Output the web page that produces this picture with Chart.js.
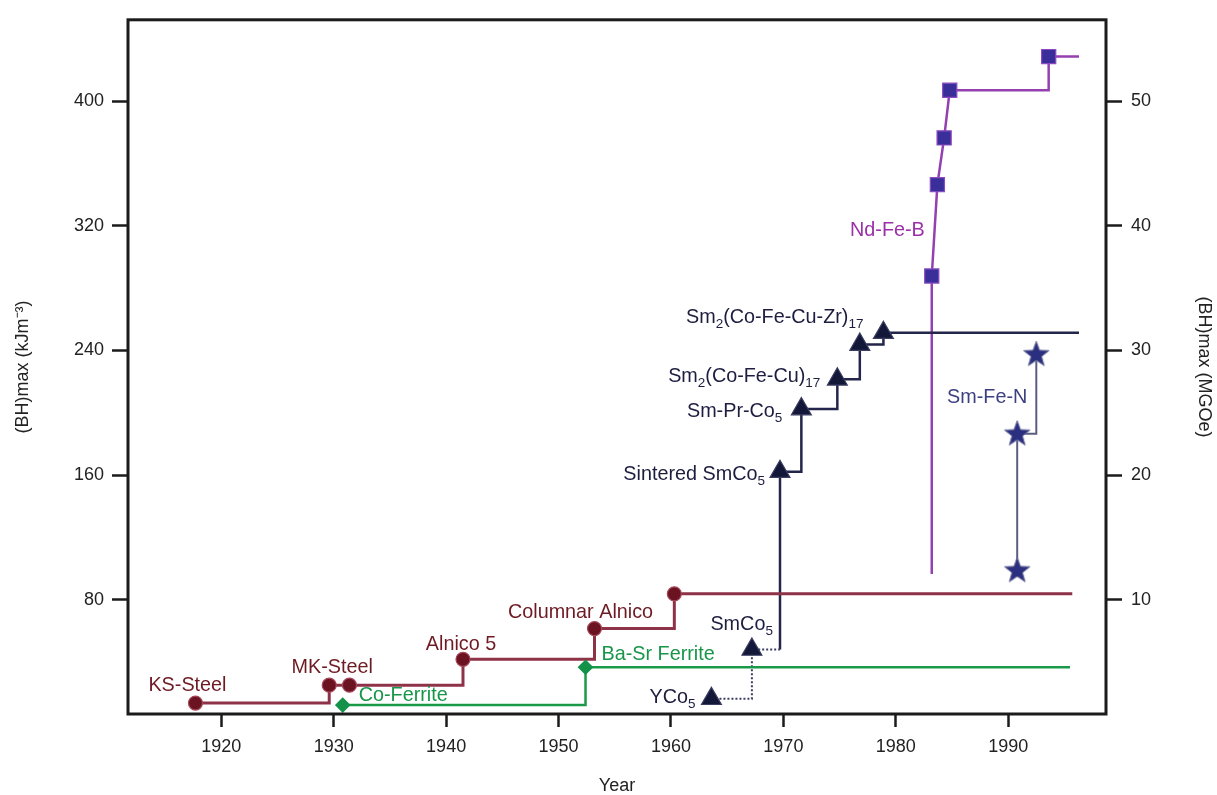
<!DOCTYPE html>
<html>
<head>
<meta charset="utf-8">
<script src="https://cdn.jsdelivr.net/npm/chart.js@4.4.1/dist/chart.umd.min.js"></script>
<style>
  html, body { margin: 0; padding: 0; background: #fff; }
  #wrap { width: 1217px; height: 795px; position: relative; }
</style>
</head>
<body>
<div id="wrap"><canvas id="chart"></canvas></div>
<script>
// Valores: año y (BH)max en kJ/m3
const alnicoYears = [1917.7, 1929.6, 1931.4, 1941.5, 1953.2, 1960.3];
const alnicoValues = [13.7, 25.2, 25.2, 41.8, 61.5, 83.8];
const alnicoEndYear = 1995.7;

const ferriteYears = [1930.8, 1952.4];
const ferriteValues = [12.4, 36.7];
const ferriteEndYear = 1995.5;

const yco5Years = [1963.6, 1967.2];
const yco5Values = [16.5, 48.1];

const smcoYears = [1969.7, 1971.6, 1974.8, 1976.8, 1978.9];
const smcoValues = [162.2, 202.4, 221.5, 243.8, 251.4];
const smcoEndYear = 1996.3;

const ndfebStartValue = 96.6;
const ndfebYears = [1983.2, 1983.7, 1984.3, 1984.8, 1993.6];
const ndfebValues = [287.8, 346.4, 376.4, 407.0, 428.6];
const ndfebEndYear = 1996.3;

const smfenYears = [1990.8, 1990.8, 1992.5];
const smfenValues = [98.9, 186.6, 237.6];

const yearTicks = [1920, 1930, 1940, 1950, 1960, 1970, 1980, 1990];
const kjTicks = [80, 160, 240, 320, 400];
const mgoeTicks = [10, 20, 30, 40, 50];

const KJ_PER_MGOE = 8;
const X_MIN = 1911.7, X_MAX = 1998.7;
const Y_MIN = 6.7, Y_MAX = 452.2;

const FONT = "'Liberation Sans', Arial, Helvetica, sans-serif";

function pts(xs, ys) {
  return xs.map((x, i) => ({ x: x, y: ys[i] }));
}

function estrella() {
  const c = document.createElement('canvas');
  c.width = 30; c.height = 30;
  const g = c.getContext('2d');
  g.beginPath();
  for (let i = 0; i < 10; i++) {
    const r = i % 2 === 0 ? 13.5 : 5.6;
    const a = -Math.PI / 2 + i * Math.PI / 5;
    g.lineTo(15 + r * Math.cos(a), 15.5 + r * Math.sin(a));
  }
  g.closePath();
  g.fillStyle = '#2b2f80';
  g.fill();
  g.lineWidth = 1;
  g.strokeStyle = '#6d7199';
  g.stroke();
  return c;
}

// lineas escalonadas
const alnicoLine = pts(alnicoYears, alnicoValues).concat([{ x: alnicoEndYear, y: alnicoValues[alnicoValues.length - 1] }]);
const ferriteLine = pts(ferriteYears, ferriteValues).concat([{ x: ferriteEndYear, y: ferriteValues[ferriteValues.length - 1] }]);
const yco5Line = pts(yco5Years, yco5Values).concat([{ x: smcoYears[0], y: yco5Values[1] }]);
const smcoLine = [{ x: smcoYears[0], y: yco5Values[1] }].concat(pts(smcoYears, smcoValues), [{ x: smcoEndYear, y: smcoValues[smcoValues.length - 1] }]);
const ndfebLow = [{ x: ndfebYears[0], y: ndfebStartValue }].concat(pts(ndfebYears.slice(0, 4), ndfebValues.slice(0, 4)));
const ndfebHigh = pts(ndfebYears.slice(3), ndfebValues.slice(3)).concat([{ x: ndfebEndYear, y: ndfebValues[4] }]);
const smfenLine = pts(smfenYears, smfenValues);

const RED = '#6e1a22', NAVY = '#1c1d3f', GREEN = '#17964a', PURPLE = '#9a2fa8', SMFEN = '#3c3f80';

const etiquetas = [
  { parts: [['KS-Steel']], at: [alnicoYears[0], alnicoValues[0]], dx: -8, dy: -12, align: 'center', color: RED },
  { parts: [['MK-Steel']], at: [alnicoYears[1], alnicoValues[1]], dx: 3, dy: -12, align: 'center', color: RED },
  { parts: [['Alnico 5']], at: [alnicoYears[3], alnicoValues[3]], dx: -2, dy: -9, align: 'center', color: RED },
  { parts: [['Columnar Alnico']], at: [alnicoYears[4], alnicoValues[4]], dx: -14, dy: -11, align: 'center', color: RED },
  { parts: [['Co-Ferrite']], at: [ferriteYears[0], ferriteValues[0]], dx: 16, dy: -4, align: 'left', color: GREEN },
  { parts: [['Ba-Sr Ferrite']], at: [ferriteYears[1], ferriteValues[1]], dx: 16, dy: -7, align: 'left', color: GREEN },
  { parts: [['YCo'], ['5', 1]], at: [yco5Years[0], yco5Values[0]], dx: -16, dy: 4, align: 'right', color: NAVY },
  { parts: [['SmCo'], ['5', 1]], at: [yco5Years[1], yco5Values[1]], dx: 21, dy: -19, align: 'right', color: NAVY },
  { parts: [['Sintered SmCo'], ['5', 1]], at: [smcoYears[0], smcoValues[0]], dx: -15, dy: 8, align: 'right', color: NAVY },
  { parts: [['Sm-Pr-Co'], ['5', 1]], at: [smcoYears[1], smcoValues[1]], dx: -19, dy: 8, align: 'right', color: NAVY },
  { parts: [['Sm'], ['2', 1], ['(Co-Fe-Cu)'], ['17', 1]], at: [smcoYears[2], smcoValues[2]], dx: -17, dy: 3, align: 'right', color: NAVY },
  { parts: [['Sm'], ['2', 1], ['(Co-Fe-Cu-Zr)'], ['17', 1]], at: [smcoYears[4], smcoValues[4]], dx: -20, dy: -10, align: 'right', color: NAVY },
  { parts: [['Nd-Fe-B']], at: [ndfebYears[0], ndfebValues[0]], dx: -7, dy: -40, align: 'right', color: PURPLE },
  { parts: [['Sm-Fe-N']], at: [smfenYears[2], smfenValues[2]], dx: -9, dy: 49, align: 'right', color: SMFEN }
];

const etiquetasPlugin = {
  id: 'etiquetas',
  afterDatasetsDraw(chart) {
    const ctx = chart.ctx;
    const xs = chart.scales.x, ys = chart.scales.y;
    const main = '19.8px ' + FONT, sub = '13.5px ' + FONT;
    etiquetas.forEach(e => {
      const px = xs.getPixelForValue(e.at[0]) + e.dx;
      const py = ys.getPixelForValue(e.at[1]) + e.dy;
      ctx.save();
      let w = 0;
      e.parts.forEach(p => { ctx.font = p[1] ? sub : main; w += ctx.measureText(p[0]).width; });
      let x = e.align === 'right' ? px - w : (e.align === 'center' ? px - w / 2 : px);
      ctx.fillStyle = e.color;
      ctx.textBaseline = 'alphabetic';
      e.parts.forEach(p => {
        ctx.font = p[1] ? sub : main;
        ctx.fillText(p[0], x, py + (p[1] ? 5 : 0));
        x += ctx.measureText(p[0]).width;
      });
      ctx.restore();
    });
  },
  afterDraw(chart) {
    const a = chart.chartArea, ctx = chart.ctx;
    ctx.save();
    ctx.strokeStyle = '#1b1b1b';
    ctx.lineWidth = 3;
    ctx.strokeRect(a.left, a.top, a.right - a.left, a.bottom - a.top);
    ctx.restore();
  }
};

function linea(data, color, extra) {
  return Object.assign({
    data: data, showLine: true, stepped: 'before', borderColor: color, borderWidth: 2.5,
    pointRadius: 0, fill: false, order: 2
  }, extra || {});
}

function marcas(data, style, radius, fill, border) {
  return {
    data: data, showLine: false, pointStyle: style, pointRadius: radius,
    backgroundColor: fill, borderColor: border, borderWidth: 1.2, order: 1
  };
}

const ticksFont = { family: FONT, size: 18 };

document.addEventListener('DOMContentLoaded', () => {
  const ctx = document.getElementById('chart').getContext('2d');
  new Chart(ctx, {
    type: 'scatter',
    data: {
      datasets: [
        marcas(pts(alnicoYears, alnicoValues), 'circle', 7, '#6b1321', '#a5485a'),
        marcas(pts(ferriteYears, ferriteValues), 'rectRot', 7, '#15924a', '#15924a'),
        marcas(pts(yco5Years, yco5Values).concat(pts(smcoYears, smcoValues)), 'triangle', 11.5, '#141838', '#3a3d60'),
        marcas(pts(ndfebYears, ndfebValues), 'rect', 10, '#3a2e9a', '#8a4cc0'),
        marcas(pts(smfenYears, smfenValues), estrella(), 14, '#2b2f80', '#2b2f80'),
        linea(alnicoLine, '#8e3248', { borderWidth: 3 }),
        linea(ferriteLine, '#1a9a48'),
        linea(yco5Line, '#3a3d62', { borderDash: [2, 2], borderWidth: 2 }),
        linea(smcoLine, '#23264a'),
        linea(ndfebLow, '#9440b0', { stepped: false }),
        linea(ndfebHigh, '#9440b0'),
        linea(smfenLine, '#5a5e80', { borderWidth: 2 })
      ]
    },
    options: {
      responsive: true,
      maintainAspectRatio: false,
      animation: false,
      events: [],
      layout: { padding: { top: 15, left: 0, right: 0, bottom: 0 } },
      plugins: { legend: { display: false }, tooltip: { enabled: false } },
      scales: {
        x: {
          type: 'linear', min: X_MIN, max: X_MAX,
          afterBuildTicks: axis => { axis.ticks = yearTicks.map(v => ({ value: v })); },
          afterFit: axis => { axis.height = 81; },
          ticks: { font: ticksFont, color: '#222', padding: 9, callback: v => String(v) },
          grid: { drawOnChartArea: false, drawTicks: true, tickLength: 13, tickColor: '#1b1b1b', tickWidth: 2.5 },
          border: { display: false },
          title: { display: true, text: 'Year', font: { family: FONT, size: 18, lineHeight: 1 }, color: '#222', padding: { top: 0, bottom: 0 } }
        },
        y: {
          type: 'linear', position: 'left', min: Y_MIN, max: Y_MAX,
          afterBuildTicks: axis => { axis.ticks = kjTicks.map(v => ({ value: v })); },
          afterFit: axis => { axis.width = 128; },
          ticks: { font: ticksFont, color: '#222', padding: 8 },
          grid: { drawOnChartArea: false, drawTicks: true, tickLength: 16, tickColor: '#1b1b1b', tickWidth: 2.5 },
          border: { display: false },
          title: { display: true, text: '(BH)max (kJm⁻³)', font: { family: FONT, size: 18, lineHeight: 1 }, color: '#222', padding: { top: 14, bottom: 0 } }
        },
        y2: {
          type: 'linear', position: 'right', min: Y_MIN / KJ_PER_MGOE, max: Y_MAX / KJ_PER_MGOE,
          afterBuildTicks: axis => { axis.ticks = mgoeTicks.map(v => ({ value: v })); },
          afterFit: axis => { axis.width = 111; },
          ticks: { font: ticksFont, color: '#222', padding: 9 },
          grid: { drawOnChartArea: false, drawTicks: true, tickLength: 16, tickColor: '#1b1b1b', tickWidth: 2.5 },
          border: { display: false },
          title: { display: true, text: '(BH)max (MGOe)', font: { family: FONT, size: 18, lineHeight: 1 }, color: '#222', padding: { top: 4, bottom: 0 } }
        }
      }
    },
    plugins: [etiquetasPlugin]
  });
});
</script>
</body>
</html>
